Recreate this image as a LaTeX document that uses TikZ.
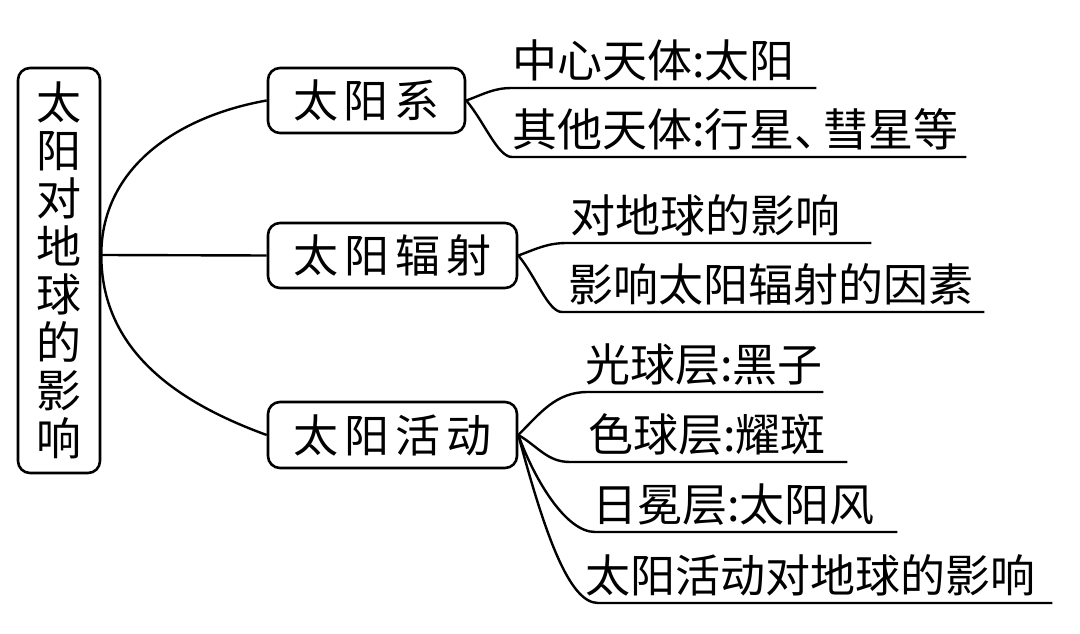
\documentclass[tikz,border=0pt]{standalone}
\usepackage{fontspec}
\setmainfont{Noto Sans CJK SC}
\usetikzlibrary{positioning}
\newcommand{\chgap}{\hspace{6pt}}

\begin{document}
\begin{tikzpicture}[x=1pt,y=1pt,
    box/.style={draw,line width=2.6pt,rounded corners=12pt,inner sep=0pt,font=\fontsize{45}{48}\selectfont},
    leaf/.style={anchor=south west,inner xsep=0pt,inner ysep=10pt,text depth=0pt,align=left,font=\fontsize{45}{48}\selectfont},
    link/.style={line width=2.4pt}]
\useasboundingbox (0,0) rectangle (1080,633);
% root and branches
\node[box,minimum width=82pt,minimum height=405pt,align=center] (root) at (59,362.5) {太\\阳\\对\\地\\球\\的\\影\\响};
\node[box,minimum width=197pt,minimum height=65pt] (sys) at (366.5,532.5) {太\chgap 阳\chgap 系};
\node[box,minimum width=249pt,minimum height=65pt] (rad) at (392.5,377.5) {太\chgap 阳\chgap 辐\chgap 射};
\node[box,minimum width=249pt,minimum height=66pt] (act) at (392.5,198) {太\chgap 阳\chgap 活\chgap 动};
\coordinate (hub) at ([yshift=15.5pt]root.east);
\draw[link] (hub) to[out=90,in=190] (sys.west);
\draw[link] (hub) -- (rad.west);
\draw[link] (hub) to[out=-90,in=160] (act.west);
% leaves
\node[leaf,text width=304pt] (c1) at (512,545) {中心天体:太阳};
\node[leaf,text width=454pt] (c2) at (512,476) {其他天体:行星、\hspace{-16pt}彗星等};
\node[leaf,text width=304pt] (r1) at (567,390) {\hspace*{3pt}对地球的影响};
\node[leaf,text width=422pt] (r2) at (562,321) {\hspace*{6pt}影响太阳辐射的因素};
\node[leaf,text width=235pt] (a1) at (588,241) {\hspace*{-3pt}光球层:黑子};
\node[leaf,text width=277pt] (a2) at (570,171) {\hspace*{18pt}色球层:耀斑};
\node[leaf,text width=302pt] (a3) at (595,101) {\hspace*{-3pt}日冕层:太阳风};
\node[leaf,text width=454pt] (a4) at (598,30) {\hspace*{-13pt}太阳活动对地球的影响};
\draw[link] (sys.east) to[out=20,in=180] (c1.south west) -- (c1.south east);
\draw[link] (sys.east) to[out=-50,in=180,in looseness=0.5] (c2.south west) -- (c2.south east);
\draw[link] (rad.east) to[out=20,in=180] (r1.south west) -- (r1.south east);
\draw[link] (rad.east) to[out=-50,in=180,in looseness=0.5] (r2.south west) -- (r2.south east);
\draw[link] (act.east) to[out=45,in=180] (a1.south west) -- (a1.south east);
\draw[link] (act.east) to[out=-30,in=180] (a2.south west) -- (a2.south east);
\draw[link] (act.east) to[out=-70,in=180,in looseness=0.6] (a3.south west) -- (a3.south east);
\draw[link] (act.east) to[out=-75,in=180,out looseness=1.4,in looseness=0.4] (a4.south west) -- (a4.south east);
\end{tikzpicture}
\end{document}
